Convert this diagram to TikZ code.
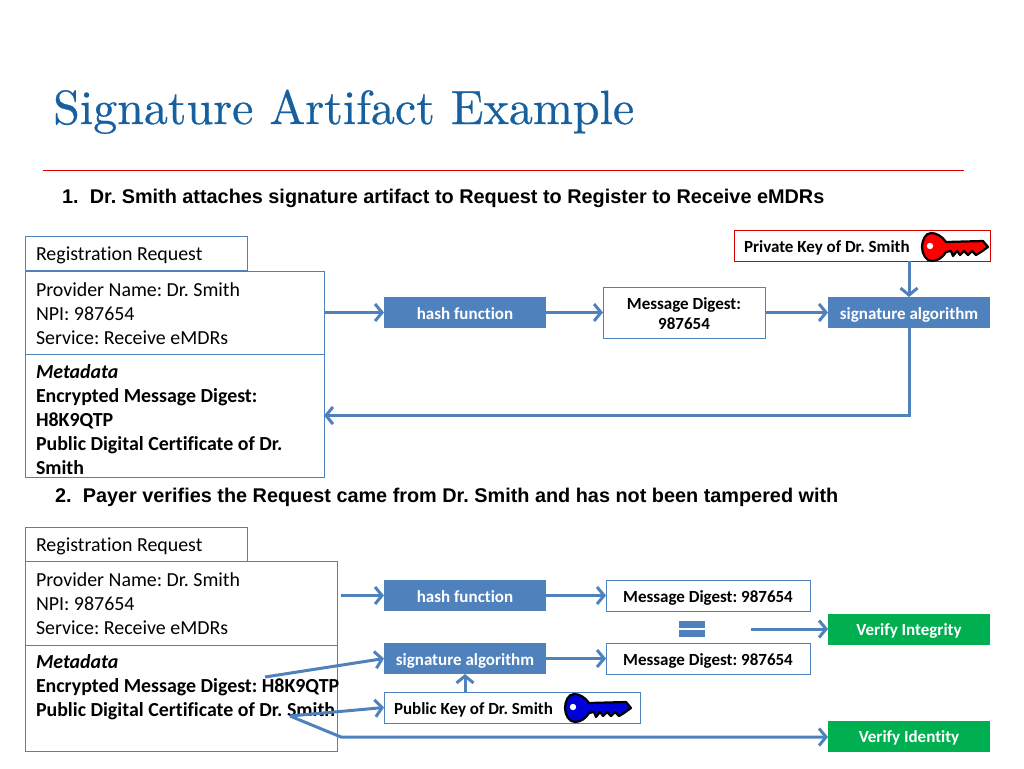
\documentclass[tikz,border=0pt]{standalone}
\usepackage{fontspec}
\setmainfont{Carlito}[Ligatures=NoCommon]
\newfontfamily\headfont{Liberation Sans}
\newfontfamily\titlefont{lmroman10-regular.otf}[FakeBold=0.5]
\usepackage{tikz}
\usetikzlibrary{arrows.meta}

\definecolor{slideblue}{HTML}{4F81BD}
\definecolor{titleblue}{HTML}{17609F}
\definecolor{verifygreen}{HTML}{00B050}

\tikzset{
    whitebox/.style = {draw=slideblue, fill=white, line width=1pt, outer sep=0pt, inner sep=0pt, font=\bfseries\fontsize{17}{20}\selectfont, align=center},
    formbox/.style  = {draw=slideblue, fill=white, line width=1pt, outer sep=0pt, inner xsep=11pt, inner ysep=0pt, font=\fontsize{19.9}{24}\selectfont, align=flush left},
    bluebox/.style  = {fill=slideblue, outer sep=0pt, inner sep=0pt, text=white, oneline, font=\bfseries\fontsize{17}{20}\selectfont},
    greenbox/.style = {fill=verifygreen, outer sep=0pt, inner sep=0pt, text=white, oneline, font=\bfseries\fontsize{17}{20}\selectfont},
    oneline/.style  = {text height=13pt, text depth=0pt},
    heading/.style  = {inner sep=0pt, anchor=base west, font=\headfont\bfseries\fontsize{19.85}{22}\selectfont},
    flow/.style     = {line width=3pt, draw=slideblue, -{Straight Barb[length=7pt, width=17pt]}},
    % key drawn from its bow centre
    pics/keyshape/.style = {code = {
        \draw[line width=2.2pt, fill=#1, line join=round]
            (13,-5) .. controls (9,-11) and (3,-14) .. (-2,-14)
            .. controls (-8,-14) and (-11,-6) .. (-11,0)
            .. controls (-11,7) and (-7,14) .. (-1,14)
            .. controls (5,14) and (10,10) .. (13,5)
            -- (18,4) -- (20,9) -- (24,4) -- (27,8) -- (31,4) -- (35,8) -- (39,4) -- (43,8) -- (48,5) -- (55,0) -- (50,-6) -- cycle;
        \fill[white] (-3,-1) circle (3.2);
    }}
}

\begin{document}
\frenchspacing
\begin{tikzpicture}[x=1pt, y=-1pt]
    \useasboundingbox (0,0) rectangle (1024,768);

    \node[inner sep=0pt, anchor=base west, text=titleblue, font=\titlefont\fontsize{48}{50}\selectfont] (title) at (53,124) {Signature Artifact Example};
    \coordinate (ruleleft) at (43,170);
    \coordinate (ruleright) at (964,170);
    \draw[red!85!black, line width=1pt] (ruleleft) -- (ruleright);

    \node[heading] (stepone) at (62,203) {1.\ \ Dr. Smith attaches signature artifact to Request to Register to Receive eMDRs};
    \node[heading] (steptwo) at (55,502) {2.\ \ Payer verifies the Request came from Dr. Smith and has not been tampered with};

    % first request
    \draw
        (136,253)   node[formbox, text height=15pt, text depth=1pt, minimum width=222pt, minimum height=34pt, text width=200pt](regone){Registration Request}
        (174.5,312.5) node[formbox, text height=15.5pt, minimum width=299pt, minimum height=83pt, text width=277pt](provone){Provider Name: Dr. Smith\\NPI: 987654\\Service: Receive eMDRs}
        (174.5,415.5) node[formbox, text height=22pt, minimum width=299pt, minimum height=123pt, text width=277pt](metaone){\textbf{\textit{Metadata}}\\\textbf{Encrypted Message Digest:}\\\textbf{H8K9QTP}\\\textbf{Public Digital Certificate of Dr.}\\\textbf{Smith}}

        (465,312.5) node[bluebox, minimum width=162pt, minimum height=31pt](hashone){hash function}
        (684,312.5) node[whitebox, text height=34pt, minimum width=162pt, minimum height=51pt](digestone){Message Digest:\\987654}
        (909,312.5) node[bluebox, minimum width=162pt, minimum height=31pt](signone){signature algorithm}
        (862,245.5) node[whitebox, oneline, draw=red!85!black, minimum width=256pt, minimum height=31pt, text width=236pt, align=flush left](privkey){Private Key of Dr. Smith}
    ;
    \pic at (933,247) {keyshape=red};

    \draw [flow] (provone) -- (hashone);
    \draw [flow] (hashone) -- (digestone);
    \draw [flow] (digestone) -- (signone);
    \draw [flow] (privkey.south -| signone) -- (signone);
    \draw [flow] (signone.south) |- (metaone.east);

    % second request
    \draw
        (136,544)   node[formbox, text height=15pt, text depth=1pt, minimum width=222pt, minimum height=34pt, text width=200pt](regtwo){Registration Request}
        (181,603)   node[formbox, text height=15pt, minimum width=312pt, minimum height=84pt, text width=290pt](provtwo){Provider Name: Dr. Smith\\NPI: 987654\\Service: Receive eMDRs}
        (181,698)   node[formbox, text height=13pt, minimum width=312pt, minimum height=106pt, text width=290pt](metatwo){\textbf{\textit{Metadata}}\\\mbox{\textbf{Encrypted Message Digest: H8K9QTP}}\\\mbox{\textbf{Public Digital Certificate of Dr. Smith}}\\~}

        (465,595.5) node[bluebox, minimum width=162pt, minimum height=31pt](hashtwo){hash function}
        (708,595.5) node[whitebox, oneline, minimum width=204pt, minimum height=31pt](digesttwo){Message Digest: 987654}
        (465,658.5) node[bluebox, minimum width=162pt, minimum height=31pt](signtwo){signature algorithm}
        (708,658.5) node[whitebox, oneline, minimum width=204pt, minimum height=31pt](digestthree){Message Digest: 987654}
        (512,707.5) node[whitebox, oneline, minimum width=256pt, minimum height=31pt, text width=236pt, align=flush left](pubkey){Public Key of Dr. Smith}
        (909,629)   node[greenbox, minimum width=162pt, minimum height=31pt](integrity){Verify Integrity}
        (909,736)   node[greenbox, minimum width=162pt, minimum height=31pt](identity){Verify Identity}
        (691.5,624.5) node[fill=slideblue, inner sep=0pt, minimum width=26pt, minimum height=7pt](eqtop){}
        (691.5,633.5) node[fill=slideblue, inner sep=0pt, minimum width=26pt, minimum height=7pt](eqbottom){}
    ;
    \pic at (576,708) {keyshape={blue!85!black}};

    \coordinate (hashstart) at (341,595.5);
    \coordinate (equalstart) at (751,629);
    \coordinate (digeststart) at (265,677);
    \coordinate (certstart) at (290,716);
    \coordinate (certbend) at (341,737);

    \draw [flow] (hashstart) -- (hashtwo);
    \draw [flow] (hashtwo) -- (digesttwo);
    \draw [flow] (signtwo) -- (digestthree);
    \draw [flow] (equalstart) -- (integrity);
    \draw [flow] (digeststart) -- (signtwo.west);
    \draw [flow] (certstart) -- (pubkey.west);
    \draw [flow] (certstart) -- (certbend) -- (certbend -| identity.west);
    \draw [flow] (pubkey.north -| signtwo) -- (signtwo);
\end{tikzpicture}
\end{document}
